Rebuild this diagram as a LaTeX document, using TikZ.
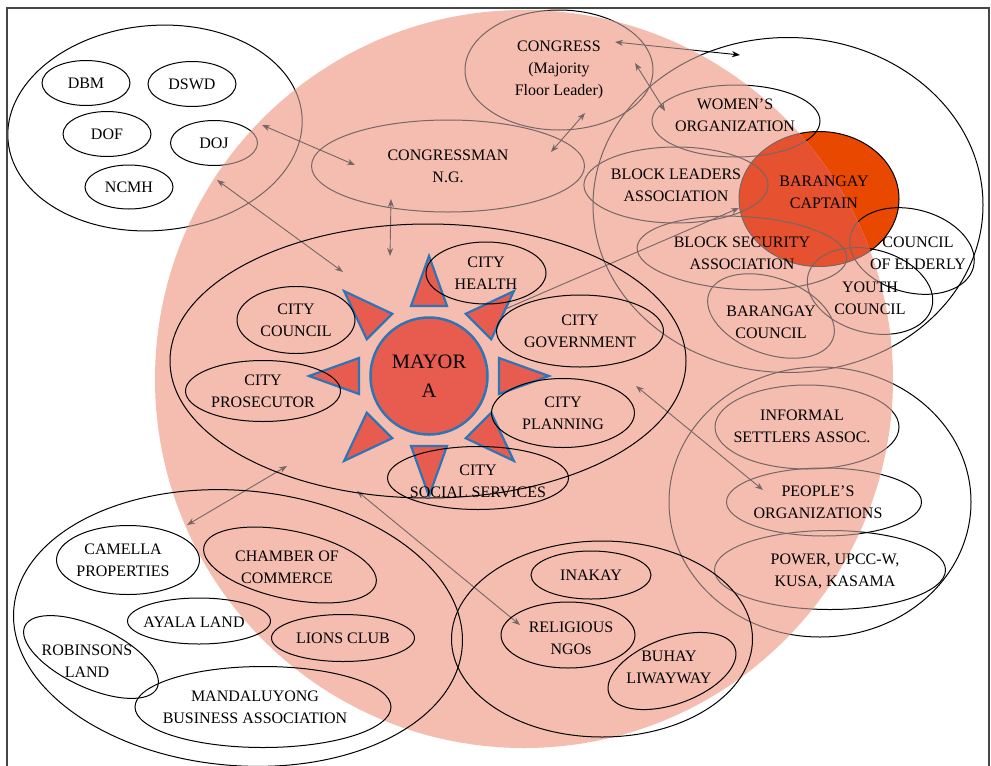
\documentclass[tikz,border=0pt]{standalone}
\usepackage{fontspec}
\setmainfont{Liberation Serif}
\usetikzlibrary{shapes.geometric,arrows.meta}
\definecolor{pinkbg}{RGB}{244,189,176}
\definecolor{mayorred}{RGB}{232,92,80}
\definecolor{blueline}{RGB}{46,117,182}
\definecolor{captorange}{RGB}{232,72,0}
\definecolor{captpink}{RGB}{230,82,48}
\definecolor{linegray}{RGB}{118,102,100}
\definecolor{framecol}{RGB}{70,70,70}
\newcommand\lbfont{\fontsize{16}{22}\selectfont}
\newcommand\bigmayorfont{\fontsize{20.5}{29}\selectfont}
% #1 name prefix, #2 line colour, #3 connector colour, #4 captain fill
\newcommand\underlayer[4]{%
\node[ell, draw=#2, fill=#4, minimum width=160, minimum height=135] (#1captain) at (819,199) {};
\node[lbl] (#1captainT) at (824,192) {BARANGAY\\CAPTAIN};
\node[ell, draw=#2, rotate=5, minimum width=295, minimum height=205] (#1gov) at (155,128) {};
\node[ell, draw=#2, minimum width=88, minimum height=45] (#1dbm) at (86,83) {DBM};
\node[ell, draw=#2, minimum width=88, minimum height=45] (#1dswd) at (192,84) {DSWD};
\node[ell, draw=#2, minimum width=88, minimum height=45] (#1dof) at (107,134) {DOF};
\node[ell, draw=#2, minimum width=87, minimum height=45] (#1doj) at (214,143) {DOJ};
\node[ell, draw=#2, minimum width=88, minimum height=44] (#1ncmh) at (129,187) {NCMH};
\node[ell, draw=#2, minimum width=188, minimum height=120] (#1congress) at (559,70) {CONGRESS\\(Majority\\Floor Leader)};
\node[ell, draw=#2, minimum width=273, minimum height=92] (#1cgm) at (448,166) {CONGRESSMAN\\N.G.};
\node[ell, draw=#2, minimum width=390, minimum height=335] (#1brgy) at (788,205) {};
\node[ell, draw=#2, minimum width=168, minimum height=72] (#1women) at (736,121) {};
\node[lbl] (#1womenT) at (735,115) {WOMEN'S\\ORGANIZATION};
\node[ell, draw=#2, minimum width=170, minimum height=76] (#1leaders) at (676,185) {BLOCK LEADERS\\ASSOCIATION};
\node[ell, draw=#2, rotate=-3, minimum width=210, minimum height=73] (#1security) at (742,253) {};
\node[lbl] (#1securityT) at (742,253) {BLOCK SECURITY\\ASSOCIATION};
\node[ell, draw=#2, rotate=-15, minimum width=127, minimum height=83] (#1elderly) at (912,251) {};
\node[lbl] (#1elderlyT) at (918,253) {COUNCIL\\OF ELDERLY};
\node[ell, draw=#2, rotate=-15, minimum width=128, minimum height=83] (#1youth) at (870,291) {};
\node[lbl] (#1youthT) at (870,298) {YOUTH\\COUNCIL};
\node[ell, draw=#2, rotate=-20, minimum width=132, minimum height=76] (#1bcouncil) at (771,316) {};
\node[lbl] (#1bcouncilT) at (771,322) {BARANGAY\\COUNCIL};
\node[ell, draw=#2, minimum width=302, minimum height=270] (#1pgroup) at (820,502) {};
\node[ell, draw=#2, minimum width=184, minimum height=84] (#1informal) at (807,427) {};
\node[lbl] (#1informalT) at (802,426) {INFORMAL\\SETTLERS ASSOC.};
\node[ell, draw=#2, minimum width=195, minimum height=68] (#1peoples) at (824,502) {};
\node[lbl] (#1peoplesT) at (818,502) {PEOPLE'S\\ORGANIZATIONS};
\node[ell, draw=#2, minimum width=231, minimum height=79] (#1power) at (830,570) {};
\node[lbl] (#1powerT) at (835,571) {POWER, UPCC-W,\\KUSA, KASAMA};
\coordinate (#1govE) at (262,125); \coordinate (#1cgmW) at (355,165);
\coordinate (#1govS) at (217,180); \coordinate (#1cityNW) at (343,272);
\coordinate (#1cgmS) at (391,199); \coordinate (#1cityN) at (390,256);
\coordinate (#1cgmNE) at (551,152); \coordinate (#1congS) at (585,113);
\coordinate (#1congE) at (615,42); \coordinate (#1brgyNW) at (740,55);
\coordinate (#1congSE) at (635,63); \coordinate (#1womenW) at (665,111);
\coordinate (#1cityNE) at (503,310); \coordinate (#1captW) at (739,208);
\coordinate (#1cityE) at (636,386); \coordinate (#1peoplesW) at (763,490);
\coordinate (#1citySW) at (287,466); \coordinate (#1bizNE) at (187,525);
\coordinate (#1cityS) at (357,491); \coordinate (#1religW) at (520,625);
\draw[conn, draw=#3] (#1govE) -- (#1cgmW);
\draw[conn, draw=#3] (#1govS) -- (#1cityNW);
\draw[conn, draw=#3] (#1cgmS) -- (#1cityN);
\draw[conn, draw=#3] (#1cgmNE) -- (#1congS);
\draw[conn, draw=#3] (#1congE) -- (#1brgyNW);
\draw[conn, draw=#3] (#1congSE) -- (#1womenW);
\draw[conn1, draw=#3] (#1cityNE) -- (#1captW);
\draw[conn, draw=#3] (#1cityE) -- (#1peoplesW);
\draw[conn, draw=#3] (#1citySW) -- (#1bizNE);
\draw[conn, draw=#3] (#1cityS) -- (#1religW);
}
\begin{document}
\begin{tikzpicture}[x=1pt,y=-1pt,
  ell/.style={ellipse, inner sep=0pt, line width=1pt, align=center, font=\lbfont},
  lbl/.style={align=center, font=\lbfont, inner sep=0pt},
  conn/.style={line width=0.9pt, {Stealth[length=8pt,width=6pt]}-{Stealth[length=8pt,width=6pt]}},
  conn1/.style={line width=0.9pt, -{Stealth[length=8pt,width=6pt]}},
  tri/.style={fill=mayorred, draw=blueline, line width=2.2pt, line join=miter}]
\useasboundingbox (0,0) rectangle (991,766);
\fill[white] (0,0) rectangle (991,766);
% layer under the pink zone
\underlayer{p}{black}{black}{captorange}
% pink zone
\node[circle, fill=pinkbg, minimum size=738, inner sep=0pt] (pinkzone) at (524,379) {};
\begin{scope}
\clip (524,379) circle (369pt);
\underlayer{q}{linegray}{linegray}{captpink}
\end{scope}
% city group
\node[ell, draw, minimum width=516, minimum height=274] (citygroup) at (428,361) {};
\node[circle, draw=blueline, line width=2.5pt, fill=mayorred, minimum size=117, inner sep=0pt, align=center, font=\bigmayorfont] (mayor) at (429,376) {MAYOR\\A};
\foreach \a in {0,45,...,315}{
  \draw[tri] ([shift={(\a:120pt)}]mayor.center) -- ([shift={(\a+14.42:72.28pt)}]mayor.center) -- ([shift={(\a-14.42:72.28pt)}]mayor.center) -- cycle;
}
\node[ell, draw, minimum width=120, minimum height=62] (health) at (486,273) {CITY\\HEALTH};
\node[ell, draw, minimum width=118, minimum height=67] (council) at (296,320) {CITY\\COUNCIL};
\node[ell, draw, minimum width=167, minimum height=72] (citygov) at (580,331) {CITY\\GOVERNMENT};
\node[ell, draw, minimum width=155, minimum height=61] (prosecutor) at (263,391) {CITY\\PROSECUTOR};
\node[ell, draw, minimum width=143, minimum height=69] (planning) at (563,413) {CITY\\PLANNING};
\node[ell, draw, minimum width=181, minimum height=63] (social) at (478,478) {};
\node[lbl] (socialT) at (478,481) {CITY\\SOCIAL SERVICES};
% business group
\node[ell, draw, rotate=-5, minimum width=450, minimum height=275] (bizgroup) at (238,628) {};
\node[ell, draw, minimum width=143, minimum height=69] (camella) at (128,560) {};
\node[lbl] (camellaT) at (123,560) {CAMELLA\\PROPERTIES};
\node[ell, draw, rotate=-12, minimum width=176, minimum height=68] (chamber) at (290,565) {};
\node[lbl] (chamberT) at (287,567) {CHAMBER OF\\COMMERCE};
\node[ell, draw, minimum width=143, minimum height=46] (ayala) at (199,621) {};
\node[lbl] (ayalaT) at (194,622) {AYALA LAND};
\node[ell, draw, minimum width=143, minimum height=47] (lions) at (343,638) {LIONS CLUB};
\node[ell, draw, rotate=-25, minimum width=146, minimum height=61] (robinsons) at (91,657) {};
\node[lbl] (robinsonsT) at (87,661) {ROBINSONS\\LAND};
\node[ell, draw, minimum width=256, minimum height=81] (mandaluyong) at (263,707) {};
\node[lbl] (mandaluyongT) at (255,707) {MANDALUYONG\\BUSINESS ASSOCIATION};
% NGO group
\node[ell, draw, minimum width=301, minimum height=196] (ngogroup) at (602,639) {};
\node[ell, draw, minimum width=120, minimum height=48] (inakay) at (591,575) {INAKAY};
\node[ell, draw, minimum width=134, minimum height=66] (religious) at (568,635) {};
\node[lbl] (religiousT) at (571,638) {RELIGIOUS\\NGOs};
\node[ell, draw, rotate=20, minimum width=134, minimum height=66] (buhay) at (672,671) {};
\node[lbl] (buhayT) at (669,667) {BUHAY\\LIWAYWAY};
% frame
\draw[framecol, line width=1.5pt] (7,780) -- (7,8) -- (989,8) -- (989,780);
\end{tikzpicture}
\end{document}
